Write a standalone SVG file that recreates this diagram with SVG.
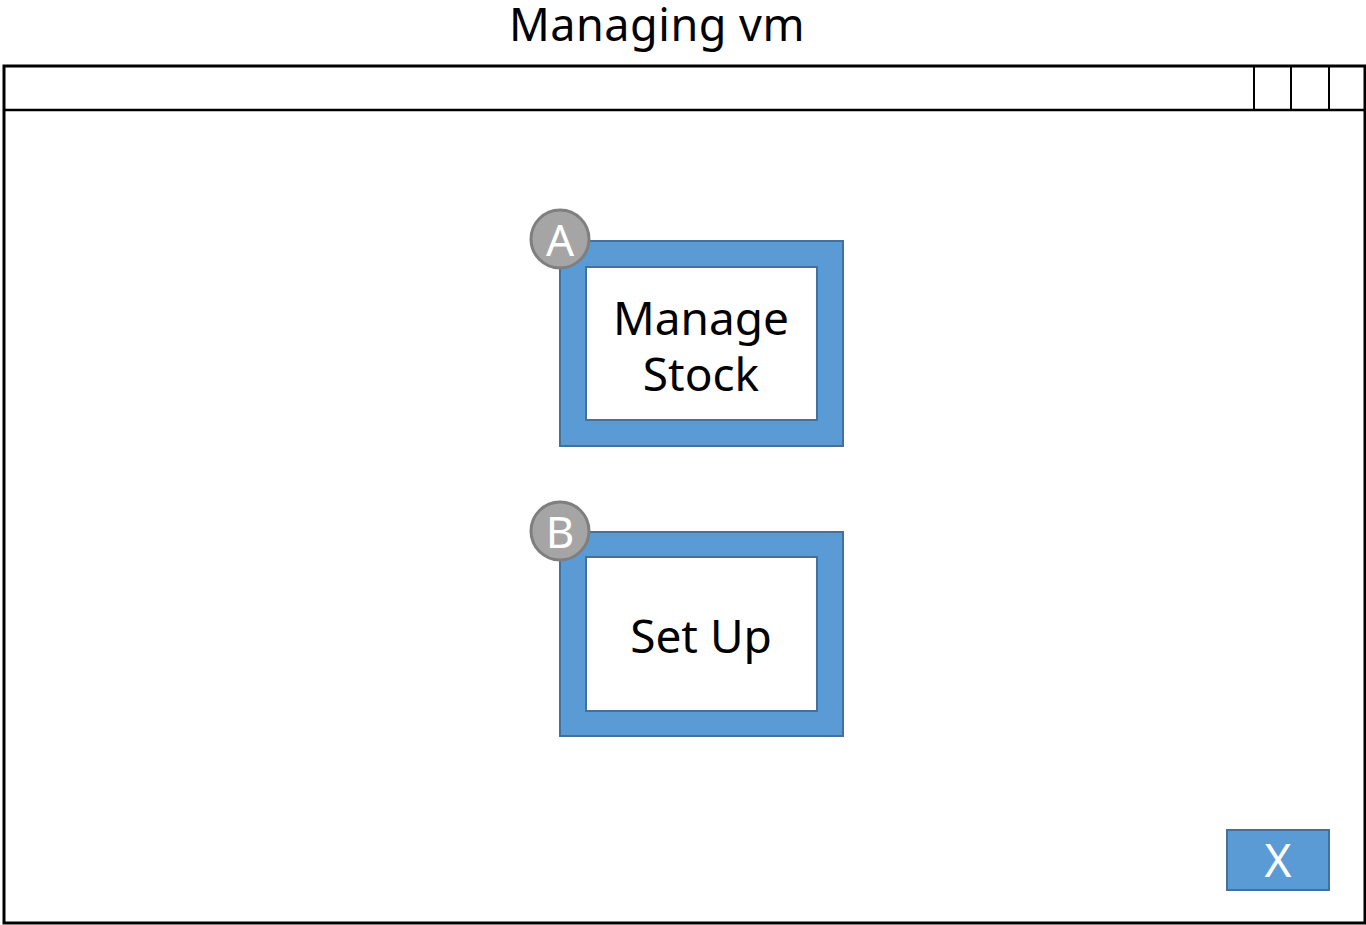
<svg xmlns="http://www.w3.org/2000/svg" width="1366" height="925" viewBox="0 0 1366 925">
<style>
.frame{fill:#fff;stroke:#000;stroke-width:3}
.blue{fill:#5B9BD5;stroke:#41719C;stroke-width:2}
.inner{fill:#fff;stroke:#41719C;stroke-width:2}
.badge{fill:#A5A5A5;stroke:#7F7F7F;stroke-width:3}
.t{font-family:"Noto Sans","Open Sans",sans-serif;text-anchor:middle}
</style>
<rect width="1366" height="925" fill="#fff"/>
<text class="t" x="657" y="41" font-size="45" letter-spacing="0.5" fill="#000">Managing vm</text>
<g id="window">
<rect class="frame" x="4" y="66" width="1361" height="857"/>
<line x1="4" y1="110" x2="1365" y2="110" stroke="#000" stroke-width="2.5"/>
<line x1="1254" y1="66" x2="1254" y2="110" stroke="#000" stroke-width="2"/>
<line x1="1291" y1="66" x2="1291" y2="110" stroke="#000" stroke-width="2"/>
<line x1="1329" y1="66" x2="1329" y2="110" stroke="#000" stroke-width="2"/>
</g>
<g id="nodeA">
<rect class="blue" x="560" y="241" width="283" height="205"/>
<rect class="inner" x="586" y="267" width="231" height="153"/>
<text class="t" x="701" y="335" font-size="46">Manage</text>
<text class="t" x="701" y="391" font-size="46">Stock</text>
<circle class="badge" cx="560" cy="239" r="29"/>
<text class="t" x="560" y="256" font-size="44" fill="#fff">A</text>
</g>
<g id="nodeB">
<rect class="blue" x="560" y="532" width="283" height="204"/>
<rect class="inner" x="586" y="557" width="231" height="154"/>
<text class="t" x="701" y="653" font-size="46">Set Up</text>
<circle class="badge" cx="560" cy="531" r="29"/>
<text class="t" x="560" y="548" font-size="44" fill="#fff">B</text>
</g>
<g id="close">
<rect class="blue" x="1227" y="830" width="102" height="60"/>
<text class="t" x="1278" y="877" font-size="46" fill="#fff">X</text>
</g>
<g id="connectors"></g>
</svg>
